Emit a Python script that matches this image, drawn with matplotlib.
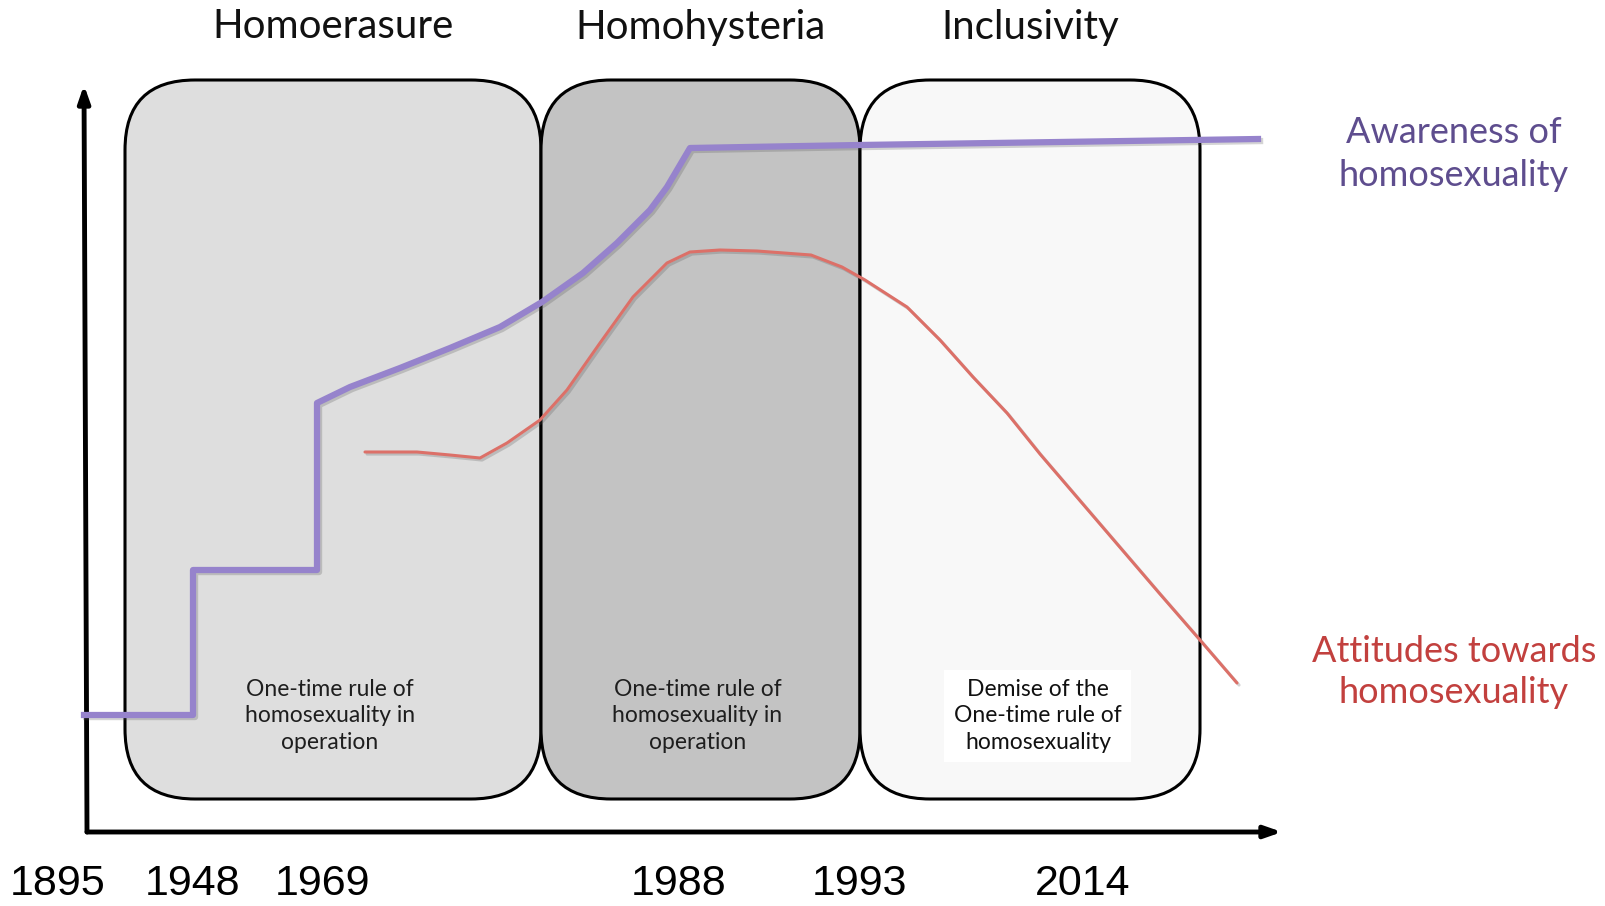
"""
Homoerasure / Homohysteria / Inclusivity - schematic timeline
"""
import matplotlib.pyplot as plt
from matplotlib.patches import FancyBboxPatch
from matplotlib import patheffects as pe

# canvas in pixel-like units
W, H = 1606, 906

# periods (boxes)
periods = ['Homoerasure', 'Homohysteria', 'Inclusivity']
period_left = [125, 541, 860]
period_right = [541, 860, 1200]
period_fill = ['#dedede', '#c3c3c3', '#f8f8f8']
period_notes = ['One-time rule of\nhomosexuality in\noperation',
                'One-time rule of\nhomosexuality in\noperation',
                'Demise of the\nOne-time rule of\nhomosexuality']

# year labels under the x axis
years = ['1895', '1948', '1969', '1988', '1993', '2014']
year_x = [58, 193, 323, 679, 860, 1083]

# awareness of homosexuality (purple)
awareness_x = [84, 193, 193, 317, 317, 350, 400, 450, 500, 542, 583, 617, 650,
               667, 690, 860, 1258]
awareness_y = [715, 715, 570, 570, 403, 387, 368, 348, 327, 302, 273, 243, 210,
               187, 148, 145, 139]

# attitudes towards homosexuality (red)
attitude_x = [365, 417, 450, 480, 507, 540, 567, 600, 633, 667, 690, 720, 757,
              811, 842, 865, 907, 940, 973, 1007, 1040, 1100, 1160, 1200, 1237]
attitude_y = [452, 452, 455, 458, 443, 420, 390, 343, 297, 263, 252, 250, 251,
              255, 267, 280, 307, 340, 377, 413, 454, 524, 594, 640, 683]

fig = plt.figure(figsize=(W / 100, H / 100), dpi=100)
ax = fig.add_axes([0, 0, 1, 1])
ax.set_xlim(0, W)
ax.set_ylim(H, 0)
ax.axis('off')

box_top, box_bottom = 80, 799
for name, x0, x1, fc, note in zip(periods, period_left, period_right, period_fill, period_notes):
    box = FancyBboxPatch((x0, box_top), x1 - x0, box_bottom - box_top,
                         boxstyle='round,pad=0,rounding_size=70',
                         facecolor=fc, edgecolor='black', linewidth=2.2, zorder=1)
    ax.add_patch(box)
    cx = (x0 + x1) / 2
    ax.text(cx, 27, name, ha='center', va='center', fontsize=29,
            family='Lato', color='#111111')
    if name == 'Inclusivity':
        ax.text(cx + 8, 716, note, ha='center', va='center', fontsize=16.5,
                family='Lato', color='#111111', linespacing=1.3,
                bbox=dict(facecolor='white', edgecolor='none', pad=7), zorder=2)
    else:
        ax.text(cx - 3, 716, note, ha='center', va='center', fontsize=16.5,
                family='Lato', color='#1e1e1e', linespacing=1.3, zorder=2)

# axes arrows
ax.annotate('', xy=(84, 85), xytext=(87, 832),
            arrowprops=dict(arrowstyle='-|>,head_length=1.0,head_width=0.35',
                            color='black', lw=3.5, shrinkA=0, shrinkB=0), zorder=3)
ax.annotate('', xy=(1282, 832), xytext=(87, 832),
            arrowprops=dict(arrowstyle='-|>,head_length=1.0,head_width=0.35',
                            color='black', lw=3.5, shrinkA=0, shrinkB=0), zorder=3)

shadow = [pe.SimpleLineShadow(offset=(1.5, -1.5), alpha=0.25, shadow_color='#555555'),
          pe.Normal()]
ax.plot(attitude_x, attitude_y, color='#dc7068', lw=2.2, zorder=4,
        solid_capstyle='round', solid_joinstyle='round', path_effects=shadow)
ax.plot(awareness_x, awareness_y, color='#9683cc', lw=4.5, zorder=5,
        solid_joinstyle='round', path_effects=shadow)

for label, x in zip(years, year_x):
    ax.text(x, 884, label, ha='center', va='center', fontsize=31,
            family='Liberation Sans', color='black')

ax.text(1454, 154, 'Awareness of\nhomosexuality', ha='center', va='center',
        fontsize=26, family='Lato', color='#5e4d8e', linespacing=1.35)
ax.text(1454, 672, 'Attitudes towards\nhomosexuality', ha='center', va='center',
        fontsize=26, family='Lato', color='#c2403e', linespacing=1.3)

plt.savefig('out.png', dpi=100)
